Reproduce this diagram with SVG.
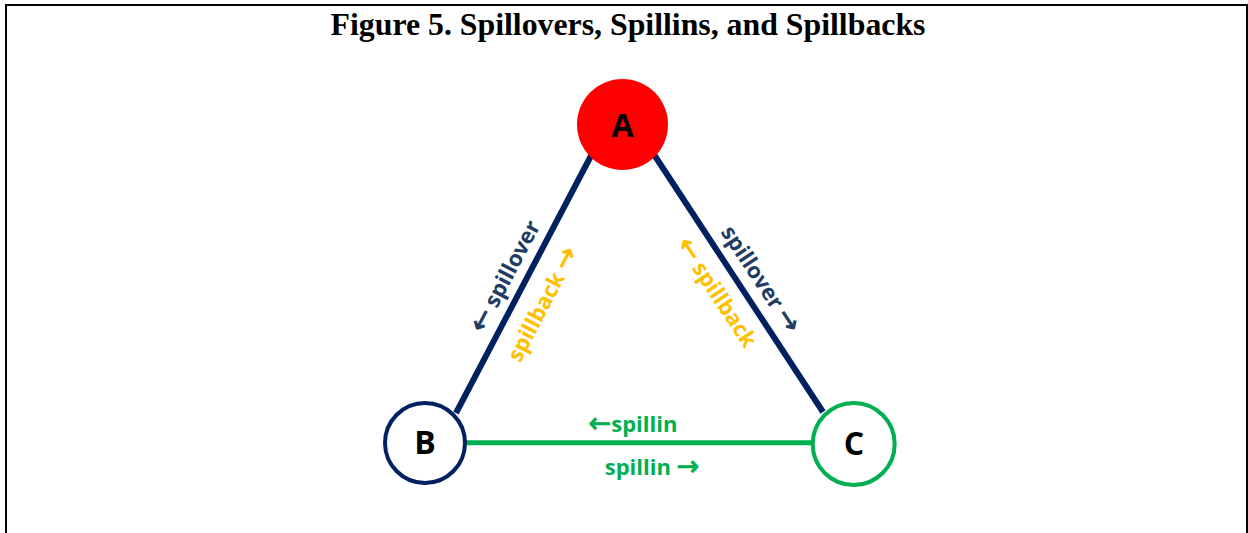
<svg xmlns="http://www.w3.org/2000/svg" width="1248" height="533" viewBox="0 0 1248 533">
  <style>
    .title { font-family: "Liberation Serif", "Times New Roman", serif; font-weight: bold; font-size: 31.8px; fill: #000; }
    .lbl { font-family: "Open Sans", "Noto Sans", sans-serif; font-weight: bold; font-size: 22px; text-anchor: middle; }
    .arr { font-family: "DejaVu Sans", sans-serif; font-weight: normal; font-size: 27px; stroke-width: 0.9px; }
    .node { font-family: "Open Sans", "Noto Sans", sans-serif; font-weight: bold; font-size: 32px; text-anchor: middle; fill: #000; }
    .navy { fill: #213b62; stroke: #213b62; }
    .gold { fill: #FFC000; stroke: #FFC000; }
    .green { fill: #00B050; stroke: #00B050; }
    text.lbl { stroke: none; }
  </style>
  <rect x="6" y="5" width="1241" height="600" fill="#fff" stroke="#000" stroke-width="2"/>
  <text class="title" x="628" y="35" text-anchor="middle">Figure 5. Spillovers, Spillins, and Spillbacks</text>

  <g id="connectors">
    <line x1="593" y1="152" x2="456" y2="413" stroke="#002060" stroke-width="6"/>
    <line x1="653" y1="153" x2="823" y2="412" stroke="#002060" stroke-width="6"/>
    <line x1="466" y1="442.7" x2="812" y2="442.7" stroke="#00B050" stroke-width="5"/>
    <text class="lbl navy" transform="translate(507,277) rotate(-62.3)" x="0" y="6"><tspan class="arr navy">←</tspan> spillover</text>
    <text class="lbl gold" transform="translate(544,305) rotate(-62.3)" x="0" y="6">spillback <tspan class="arr gold">→</tspan></text>
    <text class="lbl navy" transform="translate(759,280) rotate(56.7)" x="0" y="6">spillover <tspan class="arr navy">→</tspan></text>
    <text class="lbl gold" transform="translate(715.5,293.5) rotate(56.7)" x="0" y="6"><tspan class="arr gold">←</tspan> spillback</text>
    <text class="lbl green" x="633" y="432"><tspan class="arr green">←</tspan>spillin</text>
    <text class="lbl green" x="652" y="475">spillin <tspan class="arr green">→</tspan></text>
  </g>

  <g id="node-A">
    <circle cx="622.5" cy="124.5" r="45.5" fill="#FF0000"/>
    <text class="node" x="622.5" y="136.5">A</text>
  </g>
  <g id="node-B">
    <circle cx="425" cy="443" r="40" fill="#fff" stroke="#002060" stroke-width="4"/>
    <text class="node" x="425" y="454">B</text>
  </g>
  <g id="node-C">
    <circle cx="853.7" cy="444" r="41" fill="#fff" stroke="#00B050" stroke-width="4"/>
    <text class="node" x="854" y="455">C</text>
  </g>
</svg>
